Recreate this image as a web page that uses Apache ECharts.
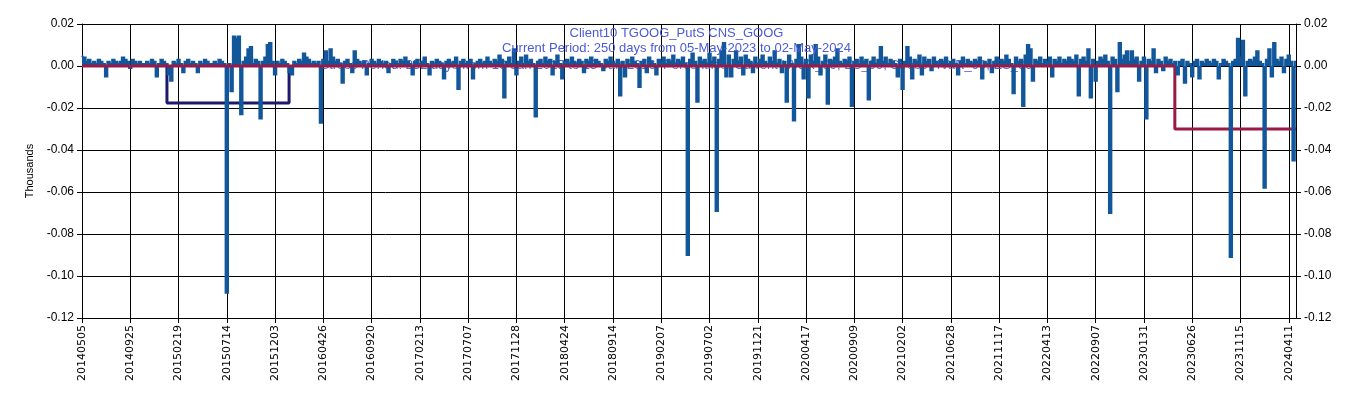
<!DOCTYPE html>
<html>
<head>
<meta charset="utf-8">
<script src="https://cdn.jsdelivr.net/npm/echarts@6/dist/echarts.min.js"></script>
<style>
  html, body { margin: 0; padding: 0; background: #fff; }
  #chart { width: 1353px; height: 398px; }
</style>
</head>
<body>
<div id="chart"></div>
<script>
// x ticks every 100 trading days
var tickLabels = ['20140505', '20140925', '20150219', '20150714', '20151203', '20160426', '20160920',
  '20170213', '20170707', '20171128', '20180424', '20180914', '20190207', '20190702', '20191121',
  '20200417', '20200909', '20210202', '20210628', '20211117', '20220413', '20220907', '20230131',
  '20230626', '20231115', '20240411'];
var lastDay = 2515;
var dayStep = 5; // one value read every 5 trading days

// daily P&L, in 0.001 thousands
var retsA = [5, 4, 2, 3, 1, 2, 1, 3, 2, 1, -5, 2, 1, 3, 2, 1, 2, 4, 3, 2,
  -1, 3, 2, 1, 2, 1, 1, 2, 1, 3, 2, -5, 1, 3, 2, 1, -4, -7, 2, 1,
  3, 1, -3, 2, 3, 1, 2, 1, -3, 2, 1, 3, 2, 1, 1, 2, 1, 3, 2, 1,
  -108, 1, -12, 14, 13, 14, -23, 2, 4, 8, 9, 1, 3, 2, -25, 2, 4, 10, 11, 2,
  -4, 2, 1, 3, 2, 1, -3, -4, 2, 1, 3, 2, 6, 4, 3, 1, 2, 1, 2, -27];
var retsB = [3, 7, 2, 8, 4, 2, 3, 1, -8, 2, 3, 1, -3, 7, 3, 2, 1, 2, -4, 1,
  3, 2, 1, 3, 2, 1, 2, -3, 1, 3, 2, 1, 3, 2, 4, 2, 1, -4, 2, 3,
  1, 2, 4, 1, -4, 2, 1, 3, 2, 1, -6, 2, 3, 1, 2, 4, -11, 2, 3, 1,
  2, 3, -6, 1, 2, 3, 1, 2, 4, 2, 1, 3, 2, 5, 3, -15, 2, 4, 1, 8,
  -4, 2, 4, 1, 5, 2, 3, 1, -24, 2, 3, 1, 4, 2, 3, -4, 2, 5, 1, -6];
var retsC = [2, 3, 1, 4, 2, 1, 3, 2, -3, 3, 2, 4, 1, 3, 2, 1, -2, 3, 2, 4,
  2, 1, 3, -14, 2, -5, 3, 1, 4, 2, 1, -10, 2, 3, -3, 4, 2, 1, -4, 3,
  2, 4, 1, 3, 2, 5, 1, 3, 2, 4, 1, -90, 3, 6, 2, -17, 4, 2, 3, 1,
  6, 2, 4, -69, 3, 7, 11, -5, 5, -5, 3, 7, 2, 4, -4, 5, 3, 2, -3, 4,
  1, 3, 5, 2, 1, 4, 2, 7, 1, 3, -3, 2, -17, 5, 1, -26, 3, 10, 4, -6];
var retsD = [3, -15, 5, 2, 10, 4, -4, 2, 5, -18, 3, 2, 4, 8, 2, 1, 3, 2, 4, -19,
  2, 3, 1, 4, 2, 3, -16, 2, 4, 1, 3, 9, 2, 4, 1, 3, 2, 1, -5, 3,
  -11, 2, 9, 4, -6, 3, 2, 5, -4, 4, 2, 3, -2, 4, 2, 1, 3, 2, 4, 1,
  2, 3, 1, -4, 2, 4, 1, 3, 2, 1, 3, 2, 4, -6, 2, 1, 3, -3, 2, 4,
  1, 3, 2, 5, 3, 1, -13, 4, 2, 3, -19, 5, 10, 8, -7, 3, 2, 4, 1, 3];
var retsE = [2, 4, -5, 3, 2, 4, 1, 3, 2, 4, 3, 2, 5, -14, 3, 4, 2, 8, -15, 3,
  -7, 2, 4, 3, 5, 2, -70, 4, 3, -12, 11, 3, 5, 7, 2, 7, 3, 4, -7, 2,
  4, -25, 3, 2, 8, -3, 3, 2, -2, 4, 2, 3, 1, 2, -4, 2, 3, -8, 2, 1,
  -5, 2, 3, -6, 2, 1, 3, 2, 1, 3, 2, -6, 1, 3, 2, 1, -91, 2, 3, 13,
  4, 12, -14, 2, 3, 2, 4, 7, 2, 1, -58, 3, 8, -5, 11, 3, 2, 4, -3, 3,
  5, 2, -45, 2];

// VaR levels (thousands) and the day ranges they cover
var stressStart = 176, stressEnd = 429, stressHVaR = -0.0176;
var currentStart = 2264, currentHVaR = -0.030;

var rets = retsA.concat(retsB, retsC, retsD, retsE);
var pnlData = rets.map(function (v, i) { return [i * dayStep, v / 1000]; });
var currentZero = [[0, 0], [currentStart, 0]];
var currentDrop = [[currentStart, 0], [currentStart, currentHVaR], [lastDay, currentHVaR]];
var stressLine = [[stressStart, 0], [stressStart, stressHVaR], [stressEnd, stressHVaR], [stressEnd, 0]];

var titleColor = '#4b5bd8';
var font = 'Liberation Sans, Arial, sans-serif';
var pnlColor = '#13579b';
var varColor = '#9c1845';

function yAxis(pos) {
  return {
    type: 'value',
    position: pos,
    min: -0.12,
    max: 0.02,
    interval: 0.02,
    name: pos === 'left' ? 'Thousands' : '',
    nameLocation: 'middle',
    nameGap: 47,
    nameMoveOverlap: false,
    nameTextStyle: { color: '#000', fontSize: 11, fontFamily: font },
    axisLine: { show: true, lineStyle: { color: '#000', width: 1 } },
    axisTick: { show: true, inside: false, length: 5, lineStyle: { color: '#000' } },
    axisLabel: {
      color: '#000', fontSize: 12, fontFamily: font, margin: 8,
      formatter: function (v) { return v.toFixed(2); }
    },
    splitLine: { show: pos === 'left', lineStyle: { color: '#000', width: 1 } }
  };
}

var option = {
  animation: false,
  backgroundColor: '#fff',
  title: [
    { text: 'Client10 TGOOG_PutS CNS_GOOG', left: 'center', top: 22,
      textStyle: { color: titleColor, fontSize: 13, fontWeight: 'normal', fontFamily: font } },
    { text: 'Current Period: 250 days from 05-May-2023 to 02-May-2024', left: 'center', top: 37,
      textStyle: { color: titleColor, fontSize: 13, fontWeight: 'normal', fontFamily: font } },
    { text: 'Stress Period: 252 days from 16-Jan-2015 to 15-Jan-2016; Percentiles: Current HVaR_99, ES_99, Stress HVaR_99, ES_99',
      left: 'center', top: 54, z: 1,
      textStyle: { color: '#5c62e0', fontSize: 13, fontWeight: 'normal', fontFamily: font } }
  ],
  grid: { left: 82, right: 57, top: 24, bottom: 80 },
  xAxis: {
    type: 'value',
    min: 0,
    max: lastDay,
    interval: 100,
    axisLine: { show: true, onZero: false, lineStyle: { color: '#000', width: 1 } },
    axisTick: { show: true, length: 5, lineStyle: { color: '#000' } },
    axisLabel: {
      rotate: 90, color: '#000', fontSize: 11, fontFamily: 'DejaVu Sans, sans-serif', margin: 7,
      showMaxLabel: false,
      formatter: function (v) { return tickLabels[v / 100] || ''; }
    },
    splitLine: { show: true, lineStyle: { color: '#000', width: 1 } }
  },
  yAxis: [yAxis('left'), yAxis('right')],
  series: [
    {
      name: 'Stress HVaR', type: 'line', data: stressLine, symbol: 'none', z: 2,
      lineStyle: { color: '#1d1a6c', width: 3 }
    },
    {
      name: 'Current HVaR', type: 'line', data: currentDrop, symbol: 'none', z: 3,
      lineStyle: { color: varColor, width: 3 }
    },
    {
      name: 'P&L', type: 'line', data: pnlData, symbol: 'none', z: 4, step: 'middle',
      lineStyle: { color: pnlColor, width: 2, join: 'miter', cap: 'butt' },
      areaStyle: { color: pnlColor, opacity: 1, origin: 0 }
    },
    {
      name: 'Current HVaR zero', type: 'line', data: currentZero, symbol: 'none', z: 5,
      lineStyle: { color: varColor, width: 3 }
    }
  ]
};

var myChart = echarts.init(document.getElementById('chart'));
myChart.setOption(option);
</script>
</body>
</html>
